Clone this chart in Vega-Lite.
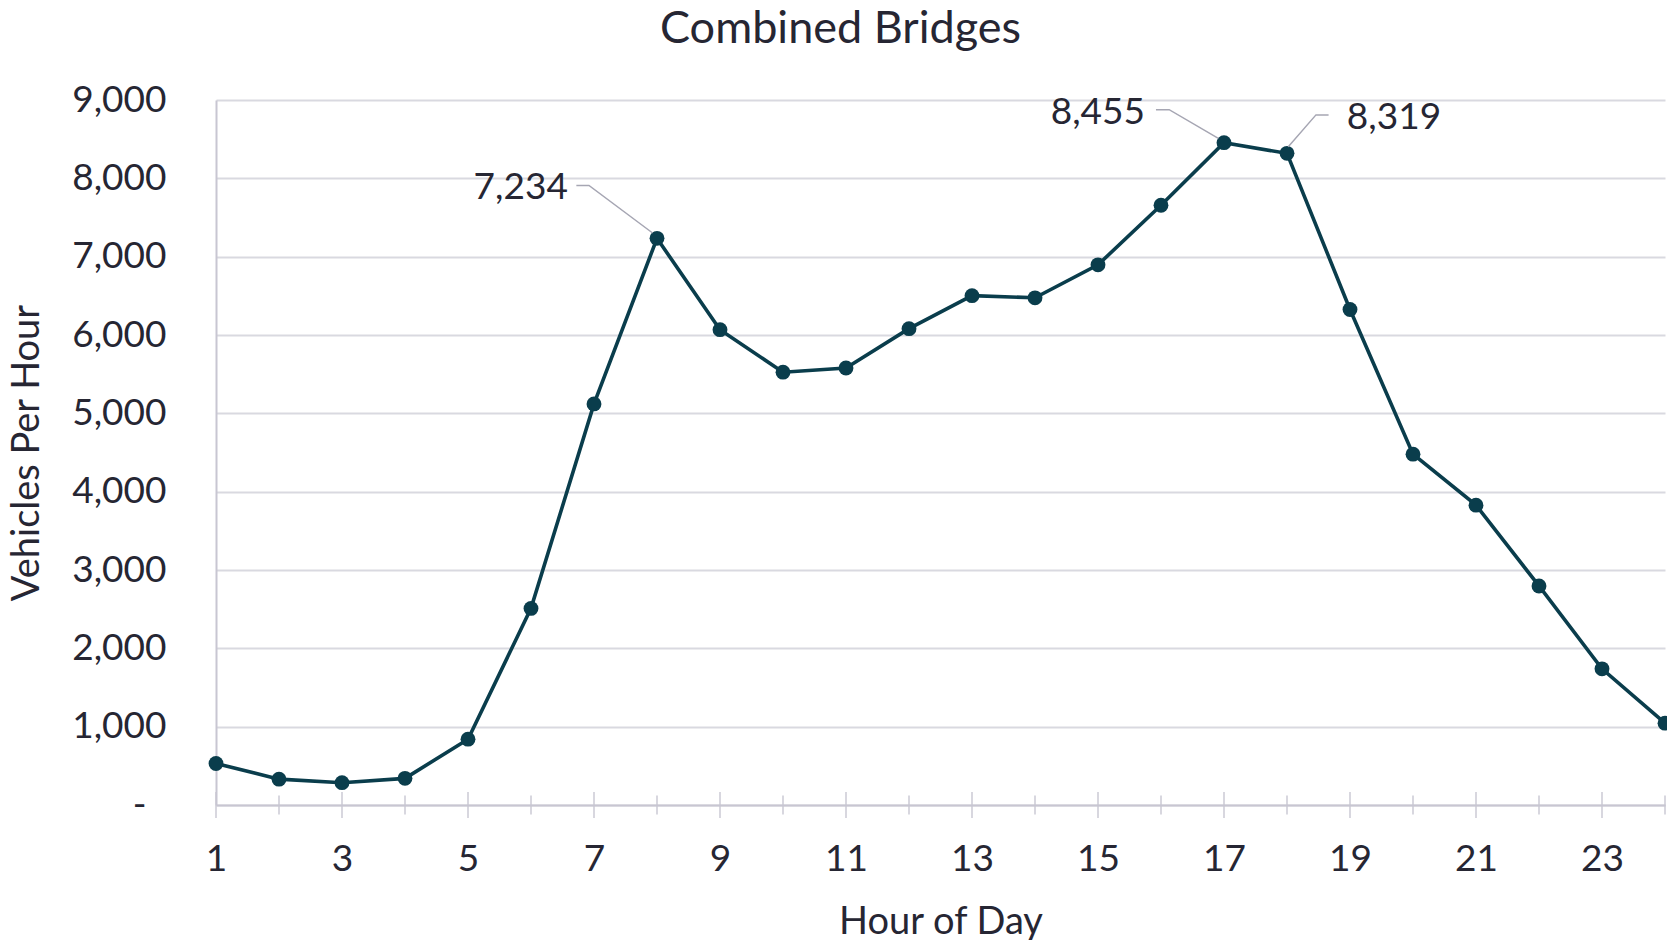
{
  "$schema": "https://vega.github.io/schema/vega-lite/v6.json",
  "autosize": {"type": "none"},
  "width": 1449,
  "height": 705,
  "padding": {"left": 216, "top": 100, "right": 2, "bottom": 135},
  "background": "white",
  "config": {
    "font": "Lato",
    "view": {"stroke": null},
    "axis": {"labelFont": "Lato", "titleFont": "Lato", "labelColor": "#262633", "titleColor": "#262633", "titleFontWeight": "normal"}
  },
  "title": {"text": "Combined Bridges", "fontSize": 45, "font": "Lato", "fontWeight": "normal", "color": "#262633", "dx": -100, "offset": 29},
  "datasets": {
    "traffic": [
      {"hour": 1, "vehicles": 530},
      {"hour": 2, "vehicles": 330},
      {"hour": 3, "vehicles": 285},
      {"hour": 4, "vehicles": 340},
      {"hour": 5, "vehicles": 840},
      {"hour": 6, "vehicles": 2510},
      {"hour": 7, "vehicles": 5120},
      {"hour": 8, "vehicles": 7234},
      {"hour": 9, "vehicles": 6068},
      {"hour": 10, "vehicles": 5525},
      {"hour": 11, "vehicles": 5579},
      {"hour": 12, "vehicles": 6081},
      {"hour": 13, "vehicles": 6502},
      {"hour": 14, "vehicles": 6475},
      {"hour": 15, "vehicles": 6896},
      {"hour": 16, "vehicles": 7656},
      {"hour": 17, "vehicles": 8455},
      {"hour": 18, "vehicles": 8319},
      {"hour": 19, "vehicles": 6326},
      {"hour": 20, "vehicles": 4479},
      {"hour": 21, "vehicles": 3828},
      {"hour": 22, "vehicles": 2796},
      {"hour": 23, "vehicles": 1738},
      {"hour": 24, "vehicles": 1045}
    ],
    "leaders": [
      {"id": "a", "ord": 1, "hx": 6.72, "vy": 7910},
      {"id": "a", "ord": 2, "hx": 6.92, "vy": 7910},
      {"id": "a", "ord": 3, "hx": 7.93, "vy": 7302},
      {"id": "b", "ord": 1, "hx": 15.92, "vy": 8877},
      {"id": "b", "ord": 2, "hx": 16.13, "vy": 8877},
      {"id": "b", "ord": 3, "hx": 16.91, "vy": 8511},
      {"id": "c", "ord": 1, "hx": 18.66, "vy": 8810},
      {"id": "c", "ord": 2, "hx": 18.46, "vy": 8810},
      {"id": "c", "ord": 3, "hx": 18.02, "vy": 8402}
    ],
    "labels": [
      {"label": "7,234", "hx": 6.585, "vy": 7873, "side": "right"},
      {"label": "8,455", "hx": 15.746, "vy": 8837, "side": "right"},
      {"label": "8,319", "hx": 18.95, "vy": 8769, "side": "left"}
    ]
  },
  "layer": [
    {
      "data": {"name": "traffic"},
      "mark": {"type": "line", "color": "#0a3d4c", "strokeWidth": 3.6, "clip": false},
      "encoding": {
        "x": {"field": "hour", "type": "quantitative", "scale": {"domain": [1, 24], "nice": false, "zero": false},
          "axis": {"values": [1,2,3,4,5,6,7,8,9,10,11,12,13,14,15,16,17,18,19,20,21,22,23,24],
            "labelExpr": "datum.value % 2 == 1 ? format(datum.value, 'd') : ''",
            "labelFlush": false, "labelOverlap": false,
            "labelFontSize": 37, "labelPadding": 36, "labelBaseline": "top", "ticks": false, "grid": false,
            "domainColor": "#c8c6d2", "domainWidth": 2,
            "title": "Hour of Day", "titleFontSize": 38, "titleX": 724.5, "titleY": 117, "titleBaseline": "middle", "titleAlign": "center"}},
        "y": {"field": "vehicles", "type": "quantitative", "scale": {"domain": [0, 9000], "nice": false},
          "axis": {"values": [0,1000,2000,3000,4000,5000,6000,7000,8000,9000],
            "labelExpr": "datum.value == 0 ? '-' : format(datum.value, ',')",
            "labelFontSize": 37,
            "labelPadding": {"condition": {"test": "datum.value == 0", "value": 70}, "value": 50},
            "ticks": false,
            "grid": true, "gridColor": "#d9d9e0", "gridWidth": 2,
            "domain": true, "domainColor": "#c8c6d2", "domainWidth": 2,
            "title": "Vehicles Per Hour", "titleFontSize": 38, "titleX": -189, "titleY": 352.5, "titleAngle": -90, "titleAlign": "center", "titleBaseline": "middle"}}
      }
    },
    {
      "data": {"name": "traffic"},
      "transform": [{"filter": "datum.hour % 2 == 1"}],
      "mark": {"type": "tick", "orient": "vertical", "size": 26, "thickness": 2, "color": "#c8c6d2", "clip": false},
      "encoding": {
        "x": {"field": "hour", "type": "quantitative"},
        "y": {"datum": 0, "type": "quantitative"}
      }
    },
    {
      "data": {"name": "traffic"},
      "transform": [{"filter": "datum.hour % 2 == 0"}],
      "mark": {"type": "tick", "orient": "vertical", "size": 19, "thickness": 2, "color": "#c8c6d2", "clip": false},
      "encoding": {
        "x": {"field": "hour", "type": "quantitative"},
        "y": {"datum": 0, "type": "quantitative"}
      }
    },
    {
      "data": {"name": "traffic"},
      "mark": {"type": "point", "filled": true, "opacity": 1, "color": "#0a3d4c", "size": 220, "clip": false},
      "encoding": {
        "x": {"field": "hour", "type": "quantitative"},
        "y": {"field": "vehicles", "type": "quantitative"}
      }
    },
    {
      "data": {"name": "leaders"},
      "mark": {"type": "line", "color": "#a6a6b3", "strokeWidth": 1.5},
      "encoding": {
        "x": {"field": "hx", "type": "quantitative"},
        "y": {"field": "vy", "type": "quantitative"},
        "detail": {"field": "id"},
        "order": {"field": "ord"}
      }
    },
    {
      "data": {"name": "labels"},
      "transform": [{"filter": "datum.side == 'right'"}],
      "mark": {"type": "text", "align": "right", "baseline": "middle", "fontSize": 37, "color": "#262633", "font": "Lato"},
      "encoding": {
        "x": {"field": "hx", "type": "quantitative"},
        "y": {"field": "vy", "type": "quantitative"},
        "text": {"field": "label"}
      }
    },
    {
      "data": {"name": "labels"},
      "transform": [{"filter": "datum.side == 'left'"}],
      "mark": {"type": "text", "align": "left", "baseline": "middle", "fontSize": 37, "color": "#262633", "font": "Lato"},
      "encoding": {
        "x": {"field": "hx", "type": "quantitative"},
        "y": {"field": "vy", "type": "quantitative"},
        "text": {"field": "label"}
      }
    }
  ]
}
